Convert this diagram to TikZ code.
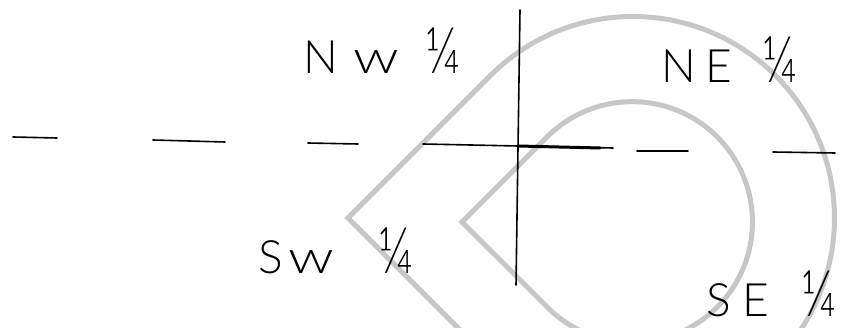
\documentclass[tikz,border=0pt]{standalone}
\usepackage{fontspec}
\newfontfamily\hand{Lato Light}
\tikzset{
  wm/.style={draw=black!22, line width=5pt, line join=miter},
  pen/.style={draw=black, line width=1.6pt, line cap=round},
  heavypen/.style={draw=black, line width=3pt, line cap=round},
  lbl/.style={anchor=base west, inner sep=0pt, font=\hand\fontsize{46}{50}\selectfont}
}
\newcommand{\qtr}{\scalebox{1.05}[1.4]{¼}}
\newcommand{\wideW}{\scalebox{1.3}[1]{w}}
\begin{document}
\begin{tikzpicture}[x=1pt,y=-1pt]
\useasboundingbox (0,0) rectangle (866,328);
\begin{scope}
\clip (0,0) rectangle (866,328);
% watermark
\draw[wm] (348,218) -- (490.5,75.5) arc[start angle=225, end angle=495, radius=201.5] -- cycle;
\draw[wm] (462,222) -- (547.1,136.9) arc[start angle=225, end angle=495, radius=120.3] -- cycle;
\end{scope}
% section lines
\coordinate (vtop) at (520,10);
\coordinate (vbot) at (516,285);
\coordinate (cross) at (518,146);
\draw[pen] (vtop) -- (vbot);
\coordinate (a1) at (13,137); \coordinate (a2) at (57,138);
\coordinate (b1) at (153,140); \coordinate (b2) at (225,142);
\coordinate (c1) at (308,143); \coordinate (c2) at (358,144);
\coordinate (d1) at (423,144); \coordinate (d2) at (613,148);
\coordinate (e1) at (637,151); \coordinate (e2) at (688,151);
\coordinate (f1) at (773,152); \coordinate (f2) at (835,153);
\draw[pen] (a1) -- (a2);
\draw[pen] (b1) -- (b2);
\draw[pen] (c1) -- (c2);
\draw[pen] (d1) -- (cross);
\draw[heavypen] (cross) -- (600,148);
\draw[pen] (cross) -- (d2);
\draw[pen] (e1) -- (e2);
\draw[pen] (f1) -- (f2);
% labels
\node[lbl] (nw) at (303,74) {N\hspace{16pt}\wideW\hspace{26pt}\qtr};
\node[lbl] (ne) at (661,83) {N\hspace{10pt}E\hspace{30pt}\qtr};
\node[lbl] (sw) at (258,273) {S\hspace{6pt}\wideW\hspace{44pt}\qtr};
\node[lbl] (se) at (706,316) {S\hspace{12pt}E\hspace{32pt}\qtr};
\end{tikzpicture}
\end{document}
